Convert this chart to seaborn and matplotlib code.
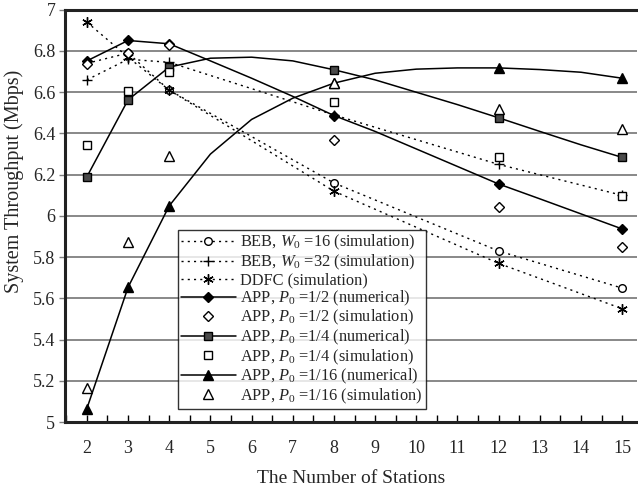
import numpy as np
import matplotlib
matplotlib.use("Agg")
import matplotlib.pyplot as plt
from matplotlib.lines import Line2D
from matplotlib.ticker import MultipleLocator
import seaborn as sns

# stations where simulation points (and numerical markers) are shown
stations_sim = [2, 3, 4, 8, 12, 15]
# stations for the numerical curves
stations_num = list(range(2, 16))

# simulation results (Mbps)
beb16_sim = [6.74, 6.79, 6.61, 6.16, 5.83, 5.65]
beb32_sim = [6.66, 6.76, 6.745, 6.49, 6.25, 6.10]
ddfc_sim = [6.94, 6.77, 6.61, 6.12, 5.77, 5.55]
app2_sim = [6.735, 6.79, 6.83, 6.37, 6.045, 5.85]
app4_sim = [6.345, 6.607, 6.70, 6.552, 6.285, 6.095]
app16_sim = [5.165, 5.875, 6.29, 6.645, 6.52, 6.42]

# numerical results (Mbps)
app2_num = [6.752, 6.851, 6.835, 6.752, 6.668, 6.58, 6.487, 6.41, 6.325, 6.24, 6.155, 6.083, 6.01, 5.937]
app4_num = [6.19, 6.563, 6.722, 6.765, 6.77, 6.752, 6.709, 6.66, 6.60, 6.54, 6.476, 6.41, 6.345, 6.284]
app16_num = [5.066, 5.654, 6.049, 6.30, 6.468, 6.571, 6.644, 6.692, 6.712, 6.718, 6.718, 6.71, 6.697, 6.668]

y_ticks = [5, 5.2, 5.4, 5.6, 5.8, 6, 6.2, 6.4, 6.6, 6.8, 7]
y_tick_labels = ["5", "5.2", "5.4", "5.6", "5.8", "6", "6.2", "6.4", "6.6", "6.8", "7"]

legend_labels = [
    r"BEB, $W_{\mathit{0}}$ =16 (simulation)",
    r"BEB, $W_{\mathit{0}}$ =32 (simulation)",
    "DDFC (simulation)",
    r"APP, $P_{\mathit{0}}$ =1/2 (numerical)",
    r"APP, $P_{\mathit{0}}$ =1/2 (simulation)",
    r"APP, $P_{\mathit{0}}$ =1/4 (numerical)",
    r"APP, $P_{\mathit{0}}$ =1/4 (simulation)",
    r"APP, $P_{\mathit{0}}$ =1/16 (numerical)",
    r"APP, $P_{\mathit{0}}$ =1/16 (simulation)",
]

DOTTED = (0, (1.5, 3))
STAR = (6, 2, 0)


def plot_chart():
    sns.set_style("white")
    plt.rcParams['font.family'] = ['Liberation Serif', 'DejaVu Serif']
    plt.rcParams['mathtext.fontset'] = 'custom'
    plt.rcParams['mathtext.rm'] = 'Liberation Serif'
    plt.rcParams['mathtext.it'] = 'Liberation Serif:italic'

    fig = plt.figure(figsize=(6.38, 4.88), dpi=100)
    ax = fig.add_axes([0.102, 0.135, 0.897, 0.845])

    # mark every simulated station on the numerical curves
    mark_idx = [stations_num.index(s) for s in stations_sim]

    # dotted simulation curves
    sim_dotted = [
        (beb16_sim, 'o', 5.5, 'white'),
        (beb32_sim, '+', 7.5, 'black'),
        (ddfc_sim, STAR, 7.5, 'black'),
    ]
    for vals, mk, ms, fc in sim_dotted:
        sns.lineplot(x=stations_sim, y=vals, ax=ax, color='black', lw=1.0,
                     linestyle=DOTTED, marker=mk, markersize=ms,
                     markerfacecolor=fc, markeredgecolor='black',
                     markeredgewidth=1.0, zorder=3)

    # numerical curves (solid)
    num_series = [
        (app2_num, 'D', 5.5, 'black'),
        (app4_num, 's', 6.0, '#4a4a4a'),
        (app16_num, '^', 7.0, 'black'),
    ]
    for vals, mk, ms, fc in num_series:
        sns.lineplot(x=stations_num, y=vals, ax=ax, color='black', lw=1.1,
                     marker=mk, markersize=ms, markevery=mark_idx,
                     markerfacecolor=fc, markeredgecolor='black',
                     markeredgewidth=1.0, zorder=4)

    # APP simulation points (hollow markers only)
    sim_points = [
        (app2_sim, 'D', 5.5),
        (app4_sim, 's', 6.0),
        (app16_sim, '^', 7.0),
    ]
    for vals, mk, ms in sim_points:
        sns.lineplot(x=stations_sim, y=vals, ax=ax, color='black',
                     linestyle='none', marker=mk, markersize=ms,
                     markerfacecolor='white', markeredgecolor='black',
                     markeredgewidth=1.0, zorder=5)

    # axes styling
    ax.set_xlim(1.47, 15.37)
    ax.set_ylim(5, 7)
    ax.xaxis.set_major_locator(MultipleLocator(1))
    ax.xaxis.set_minor_locator(MultipleLocator(0.5))
    ax.set_xticks(range(2, 16))
    ax.set_yticks(y_ticks)
    ax.set_yticklabels(y_tick_labels)
    ax.tick_params(axis='x', which='both', direction='in', length=5, width=1,
                   color='black', labelsize=13, pad=13, top=False, bottom=True)
    ax.tick_params(axis='y', which='major', direction='out', length=4, width=1,
                   color='#808080', labelsize=13, pad=3, left=True)
    ax.grid(axis='y', color='#7f7f7f', lw=1.3)
    ax.grid(axis='x', visible=False)
    for side in ['left', 'top', 'bottom']:
        ax.spines[side].set_color('#222222')
        ax.spines[side].set_linewidth(2.2)
    ax.spines['right'].set_visible(False)

    ax.set_xlabel("The Number of Stations", fontsize=14, labelpad=9)
    ax.set_ylabel("System Throughput (Mbps)", fontsize=14.5)
    ax.yaxis.set_label_coords(-0.071, 0.585)

    # legend
    handles = [
        Line2D([], [], color='black', lw=1.0, ls=DOTTED, marker='o', ms=5.5, mfc='white', mec='black'),
        Line2D([], [], color='black', lw=1.0, ls=DOTTED, marker='+', ms=7.5, mec='black'),
        Line2D([], [], color='black', lw=1.0, ls=DOTTED, marker=STAR, ms=7.5, mec='black'),
        Line2D([], [], color='black', lw=1.1, marker='D', ms=5.5, mfc='black', mec='black'),
        Line2D([], [], color='black', ls='none', marker='D', ms=5.5, mfc='white', mec='black'),
        Line2D([], [], color='black', lw=1.1, marker='s', ms=6.0, mfc='#4a4a4a', mec='black'),
        Line2D([], [], color='black', ls='none', marker='s', ms=6.0, mfc='white', mec='black'),
        Line2D([], [], color='black', lw=1.1, marker='^', ms=7.0, mfc='black', mec='black'),
        Line2D([], [], color='black', ls='none', marker='^', ms=7.0, mfc='white', mec='black'),
    ]
    leg = ax.legend(handles, legend_labels, loc='upper left',
                    bbox_to_anchor=(0.1976, 0.466), borderaxespad=0,
                    fontsize=11.8, frameon=True, fancybox=False,
                    handlelength=3.3, handletextpad=0.3, labelspacing=0.02,
                    borderpad=0.2)
    leg.get_frame().set_edgecolor('black')
    leg.get_frame().set_linewidth(1.0)
    leg.set_zorder(10)

    fig.savefig("out.png", dpi=100)


def main():
    plot_chart()


if __name__ == "__main__":
    main()
